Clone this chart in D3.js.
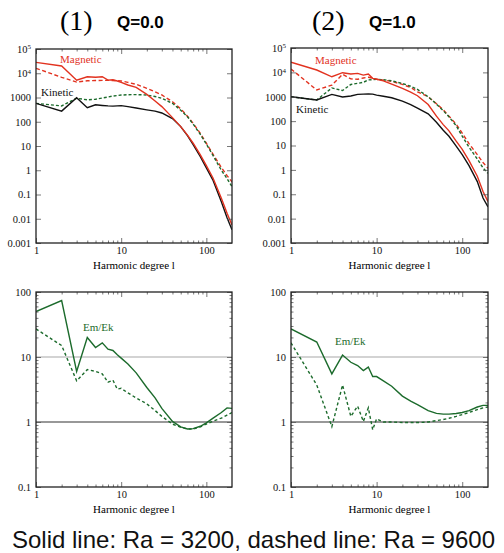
<!DOCTYPE html>
<html>
<head>
<meta charset="utf-8">
<script src="https://cdn.jsdelivr.net/npm/d3@7"></script>
<style>
  body { margin: 0; background: #fff; }
  svg { display: block; }
</style>
</head>
<body>
<div id="chart"></div>
<script>
const degrees = [1, 2, 3, 4, 5, 6, 7, 8, 9, 10, 12, 15, 20, 25, 30, 40, 50, 60, 70, 85, 100, 120, 150, 175, 200];

// (1) Q=0.0 energy spectra
const magSolidQ0 = [28000, 20000, 5200, 7200, 6800, 7200, 5200, 5400, 4800, 4200, 3270, 2630, 1350, 720, 420, 148, 63, 28, 13, 4.3, 1.55, 0.47, 0.07, 0.017, 0.0055];
const kinSolidQ0 = [575, 275, 980, 380, 500, 470, 450, 440, 450, 460, 420, 370, 310, 275, 230, 135, 63, 27, 11.5, 3.6, 1.25, 0.38, 0.05, 0.011, 0.0035];
const magDashQ0  = [16000, 6800, 4300, 4900, 5000, 5100, 5100, 5000, 4900, 4800, 4200, 3500, 2400, 1700, 1270, 670, 340, 170, 86, 33, 13, 4.5, 1.3, 0.6, 0.33];
const kinDashQ0  = [575, 450, 930, 800, 850, 950, 1050, 1150, 1200, 1260, 1300, 1320, 1260, 1100, 930, 575, 300, 160, 80, 30, 12, 4, 1.0, 0.45, 0.21];

// (2) Q=1.0 energy spectra
const magSolidQ1 = [26000, 12500, 6600, 9700, 8600, 9100, 7700, 8600, 5700, 5200, 4500, 3300, 2200, 1550, 1100, 480, 160, 72, 40, 15, 7, 2.4, 0.55, 0.13, 0.05];
const kinSolidQ1 = [1000, 740, 1250, 980, 1070, 1250, 1280, 1300, 1280, 1170, 1050, 910, 660, 480, 340, 200, 90, 42, 24, 9.5, 4.2, 1.5, 0.33, 0.07, 0.03];
const magDashQ1  = [13700, 1900, 3000, 8300, 5400, 5200, 5900, 6300, 5800, 5200, 4800, 4300, 3200, 2400, 1600, 1000, 520, 290, 160, 75, 32, 12, 4.2, 2.0, 1.15];
const kinDashQ1  = [1000, 740, 2300, 1800, 3200, 3550, 3900, 4900, 5000, 5200, 5000, 4500, 3500, 2700, 2000, 1000, 500, 270, 150, 65, 24, 8.5, 2.8, 1.2, 0.72];

// Em/Ek ratios
const ratioSolidQ0 = [50, 74, 6.0, 20, 14, 16.5, 13.2, 12.6, 10.8, 9.6, 7.8, 5.7, 3.4, 2.35, 1.62, 1.02, 0.84, 0.78, 0.79, 0.86, 0.97, 1.15, 1.4, 1.65, 1.62];
const ratioDashQ0  = [27, 15, 4.3, 6.4, 6.0, 5.5, 4.1, 4.4, 3.2, 3.3, 2.8, 2.35, 1.9, 1.5, 1.22, 0.93, 0.83, 0.78, 0.78, 0.84, 0.93, 1.03, 1.15, 1.28, 1.4];
const ratioSolidQ1 = [27, 17, 5.5, 10.7, 8.3, 7.4, 6.2, 7.0, 5.0, 5.0, 4.3, 3.55, 2.5, 2.1, 1.85, 1.5, 1.36, 1.32, 1.32, 1.35, 1.4, 1.5, 1.7, 1.8, 1.8];
const ratioDashQ1  = [16.5, 3.7, 0.85, 3.7, 1.22, 1.75, 1.02, 1.65, 0.76, 1.12, 1.0, 1.0, 0.98, 0.98, 0.98, 1.0, 1.05, 1.09, 1.14, 1.22, 1.3, 1.4, 1.55, 1.65, 1.7];

const xTicks = [1, 10, 100];
const spectrumTicks = [0.001, 0.01, 0.1, 1, 10, 100, 1000, 1e4, 1e5];
const ratioTicks = [0.1, 1, 10, 100];

const red = "#e2321f", green = "#1c6b2c", black = "#111";

const width = 504, height = 553;
const svg = d3.select("#chart").append("svg")
    .attr("width", width)
    .attr("height", height);

const serif = "'Liberation Serif', 'Times New Roman', serif";
const sans = "'Liberation Sans', Arial, sans-serif";

// titles
[["(1)", "Q=0.0", 60, 117], ["(2)", "Q=1.0", 312, 369]].forEach(t => {
    svg.append("text").attr("x", t[2]).attr("y", 30)
        .style("font-family", serif).style("font-size", "28px").text(t[0]);
    svg.append("text").attr("x", t[3]).attr("y", 28)
        .style("font-family", sans).style("font-size", "17px").style("font-weight", "bold").text(t[1]);
});

const panels = [
    { x0: 36, x1: 232, y0: 49, y1: 243, dom: [0.001, 1e5], ticks: spectrumTicks, minorY: false,
      series: [
        { v: magDashQ0, c: red, dash: "4,2.5" },
        { v: kinDashQ0, c: green, dash: "3,2" },
        { v: kinSolidQ0, c: black },
        { v: magSolidQ0, c: red }
      ],
      labels: [["Magnetic", 60, 63, red], ["Kinetic", 41, 96, black]] },
    { x0: 291, x1: 488, y0: 48, y1: 243, dom: [0.001, 1e5], ticks: spectrumTicks, minorY: false,
      series: [
        { v: magDashQ1, c: red, dash: "4,2.5" },
        { v: kinDashQ1, c: green, dash: "3,2" },
        { v: kinSolidQ1, c: black },
        { v: magSolidQ1, c: red }
      ],
      labels: [["Magnetic", 315, 64, red], ["Kinetic", 296, 113, black]] },
    { x0: 36, x1: 232, y0: 292, y1: 487, dom: [0.1, 100], ticks: ratioTicks, minorY: true, guides: true,
      series: [
        { v: ratioDashQ0, c: green, dash: "3,2.5" },
        { v: ratioSolidQ0, c: green }
      ],
      labels: [["Em/Ek", 83, 331, green]] },
    { x0: 291, x1: 488, y0: 292, y1: 487, dom: [0.1, 100], ticks: ratioTicks, minorY: true, guides: true,
      series: [
        { v: ratioDashQ1, c: green, dash: "3,2.5" },
        { v: ratioSolidQ1, c: green }
      ],
      labels: [["Em/Ek", 335, 345, green]] }
];

function minorTicks(lo, hi) {
    const out = [];
    for (let e = Math.floor(Math.log10(lo)); e < Math.ceil(Math.log10(hi)); e++) {
        for (let k = 2; k <= 9; k++) {
            const v = k * Math.pow(10, e);
            if (v > lo && v < hi) out.push(v);
        }
    }
    return out;
}

function fmtY(d) {
    return d >= 1e4 ? "10" : (d < 1 ? String(d) : d3.format("d")(d));
}

panels.forEach(p => {
    const x = d3.scaleLog().domain([1, 200]).range([p.x0, p.x1]);
    const y = d3.scaleLog().domain(p.dom).range([p.y1, p.y0]);
    const g = svg.append("g");

    if (p.guides) {
        g.append("line").attr("x1", p.x0).attr("x2", p.x1)
            .attr("y1", y(10)).attr("y2", y(10))
            .attr("stroke", "#a8a8a8").attr("stroke-width", 1.2);
        g.append("line").attr("x1", p.x0).attr("x2", p.x1)
            .attr("y1", y(1)).attr("y2", y(1))
            .attr("stroke", "#333").attr("stroke-width", 1.2);
    }

    const line = d3.line()
        .x((d, i) => x(degrees[i]))
        .y(d => y(d));

    const clipId = "clip" + p.x0 + p.y0;
    g.append("clipPath").attr("id", clipId).append("rect")
        .attr("x", p.x0).attr("y", p.y0)
        .attr("width", p.x1 - p.x0).attr("height", p.y1 - p.y0);

    p.series.forEach(s => {
        g.append("path")
            .attr("d", line(s.v))
            .attr("clip-path", `url(#${clipId})`)
            .attr("fill", "none")
            .attr("stroke", s.c)
            .attr("stroke-width", 1.4)
            .attr("stroke-dasharray", s.dash || null);
    });

    // ticks on all four sides, pointing inward
    const xMinor = minorTicks(1, 200);
    const yMinor = p.minorY ? minorTicks(p.dom[0], p.dom[1]) : [];
    const tickStyle = sel => {
        sel.select(".domain").remove();
        sel.selectAll(".tick line").attr("stroke", "#555").attr("stroke-width", 0.8);
        sel.selectAll(".tick text").style("font-family", serif).style("font-size", "10.5px").attr("fill", "#111");
    };

    g.append("g").attr("transform", `translate(0,${p.y1})`)
        .call(d3.axisBottom(x).tickValues(xTicks).tickSize(-5).tickPadding(4).tickFormat(d3.format("d")))
        .call(tickStyle);
    g.append("g").attr("transform", `translate(0,${p.y1})`)
        .call(d3.axisBottom(x).tickValues(xMinor).tickSize(-2.5).tickFormat(""))
        .call(tickStyle);
    g.append("g").attr("transform", `translate(0,${p.y0})`)
        .call(d3.axisTop(x).tickValues(xTicks).tickSize(-5).tickFormat(""))
        .call(tickStyle);
    g.append("g").attr("transform", `translate(0,${p.y0})`)
        .call(d3.axisTop(x).tickValues(xMinor).tickSize(-2.5).tickFormat(""))
        .call(tickStyle);

    const left = g.append("g").attr("transform", `translate(${p.x0},0)`)
        .call(d3.axisLeft(y).tickValues(p.ticks).tickSize(-5).tickPadding(5).tickFormat(fmtY))
        .call(tickStyle);
    left.selectAll(".tick text").filter(d => d >= 1e4)
        .append("tspan").attr("dy", "-0.5em").style("font-size", "7px")
        .text(d => Math.round(Math.log10(d)));
    g.append("g").attr("transform", `translate(${p.x1},0)`)
        .call(d3.axisRight(y).tickValues(p.ticks).tickSize(-5).tickFormat(""))
        .call(tickStyle);
    if (yMinor.length) {
        g.append("g").attr("transform", `translate(${p.x0},0)`)
            .call(d3.axisLeft(y).tickValues(yMinor).tickSize(-2.5).tickFormat(""))
            .call(tickStyle);
        g.append("g").attr("transform", `translate(${p.x1},0)`)
            .call(d3.axisRight(y).tickValues(yMinor).tickSize(-2.5).tickFormat(""))
            .call(tickStyle);
    }

    g.append("rect")
        .attr("x", p.x0).attr("y", p.y0)
        .attr("width", p.x1 - p.x0).attr("height", p.y1 - p.y0)
        .attr("fill", "none").attr("stroke", "#222").attr("stroke-width", 1.3);

    g.append("text")
        .attr("x", (p.x0 + p.x1) / 2).attr("y", p.y1 + 26)
        .attr("text-anchor", "middle")
        .style("font-family", serif).style("font-size", "11px")
        .text("Harmonic degree l");

    p.labels.forEach(l => {
        g.append("text").attr("x", l[1]).attr("y", l[2])
            .attr("fill", l[3])
            .style("font-family", serif).style("font-size", "11px")
            .text(l[0]);
    });
});

svg.append("text")
    .attr("x", 12).attr("y", 548)
    .style("font-family", sans).style("font-size", "24px").attr("fill", "#111")
    .text("Solid line: Ra = 3200, dashed line: Ra = 9600");
</script>
</body>
</html>
